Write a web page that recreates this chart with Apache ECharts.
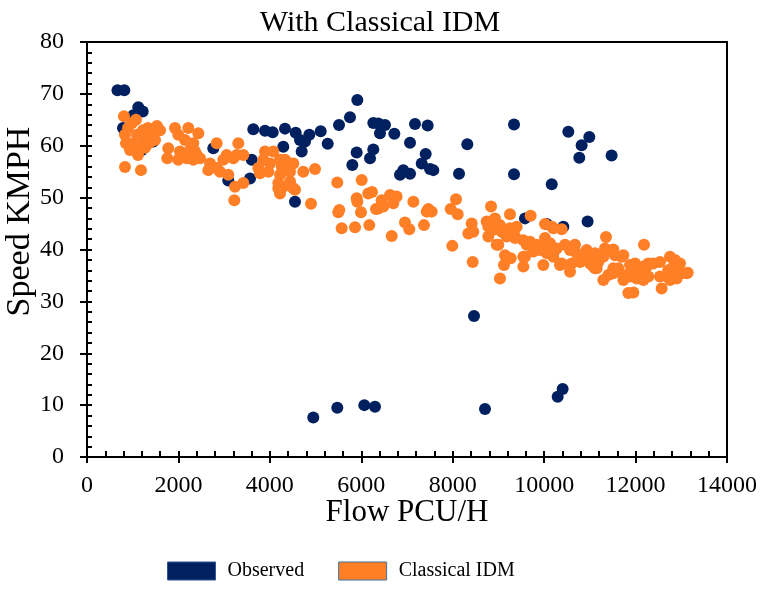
<!DOCTYPE html>
<html>
<head>
<meta charset="utf-8">
<script src="https://cdn.jsdelivr.net/npm/echarts@6/dist/echarts.min.js"></script>
<style>html,body{margin:0;padding:0;background:#fff}#c{width:760px;height:590px}</style>
</head>
<body>
<div id="c"></div>
<script>
var chartTitle = 'With Classical IDM';
var xName = 'Flow PCU/H';
var yName = 'Speed KMPH';
var seriesNames = ['Observed', 'Classical IDM'];
var xTicks = [0, 2000, 4000, 6000, 8000, 10000, 12000, 14000];
var yTicks = [0, 10, 20, 30, 40, 50, 60, 70, 80];

var observed = [
[667,70.7],[816,70.7],[1122,67.4],[1218,66.6],[1013,65.9],[788,63.4],[1450,60.8],[1197,59.2],[1291,61.7],
[2763,59.5],[3091,53.3],[3566,53.7],[3603,57.3],[3638,63.2],
[3894,62.9],[4062,62.6],[4331,63.3],[4565,62.5],[4863,62.1],[5112,62.8],[4659,61.1],[4769,60.8],[4696,58.9],[4294,59.8],[5265,60.4],[5513,64.0],[5753,65.5],[5913,68.8],[6263,64.4],[6373,64.3],[6519,64.0],[6409,62.4],[6723,62.3],[7175,64.2],[7452,63.9],[7066,60.6],[5899,58.7],[6263,59.3],[6191,57.6],[5804,56.3],[6919,55.3],[6847,54.4],[7066,54.6],[7409,58.4],[7322,56.6],[7503,55.5],[7575,55.3],[4331,55.6],[4550,49.2],
[8319,60.3],[8138,54.6],[9341,64.1],[10529,62.7],[10988,61.7],[10820,60.1],[10769,57.7],[11476,58.1],[9341,54.5],[10166,52.6],
[9581,46.0],[10056,44.9],[10420,44.4],[10951,45.4],
[4950,7.6],[5475,9.5],[6066,10.0],[6300,9.7],[8706,9.25],[10296,11.6],[10405,13.1],[8466,27.2]
];

var classicalIDM = [
[809,65.7],[984,64.4],[1072,65.0],[831,62.1],[853,60.5],[1094,62.1],[1225,63.0],[1334,63.4],[1531,63.8],[1422,62.4],
[1313,61.1],[1006,60.5],[1159,60.1],[1269,59.6],[1356,60.5],[831,55.9],[1181,55.3],[941,59.2],[1488,61.1],[1116,58.2],[1597,63.0],[897,63.4],
[1925,63.4],[1997,62.1],[2216,63.4],[2435,62.4],[2144,61.1],[2325,60.5],[1778,59.5],[1756,57.6],[2034,58.9],[2253,59.2],
[2400,58.2],[2181,57.6],[1997,57.3],[2472,57.6],[2325,57.3],[2363,58.9],[2837,60.5],[3310,60.5],[2691,56.6],[2837,55.7],
[2654,55.3],[2982,57.3],[3056,58.2],[3200,57.6],[3419,58.2],[3275,58.2],[2909,55.0],[3091,54.4],[3238,52.1],[3419,52.8],[3222,49.5],
[3894,58.9],[4076,58.9],[3857,57.3],[4003,56.6],[4222,57.3],[4294,55.7],[4441,56.6],[3784,54.7],[4185,51.8],[4222,50.8],
[4441,55.0],[4513,51.8],[3748,55.7],[3966,55.0],[4331,57.3],[4513,56.6],[4259,56.0],[4369,55.3],[4222,54.4],[4185,52.8],
[4550,51.5],[4731,55.0],[4988,55.5],[4900,48.8],[4441,53.1],[4294,52.1],
[5475,52.9],[6009,53.4],[6153,50.8],[6234,51.1],[5900,49.9],[5913,49.2],[5519,47.6],[5497,47.2],[5571,44.1],[5863,44.3],
[5994,47.2],[6175,44.7],[6322,47.8],[6482,48.3],[6446,49.5],[6373,47.9],[6628,50.5],[6773,50.2],[6700,48.9],[6665,42.6],
[6956,45.2],[7050,43.9],[7372,44.7],[7139,49.2],[7431,47.3],[7540,47.3],[7466,47.8],[7956,47.8],[8109,46.8],[8072,49.7],
[7991,40.7],[8437,37.6],[8415,45.0],[8451,43.4],[8342,43.1],[8743,45.4],[8816,44.7],[8779,42.5],[8925,46.0],[8962,40.9],
[8838,48.3],[9034,34.4],[8889,43.8],[9034,44.7],[9071,43.4],[8779,44.4],[9253,46.8],[9399,44.4],[9363,42.5],[8998,40.9],
[9705,46.5],[10019,44.9],[10201,44.1],[10384,43.9],[9144,38.9],[9268,38.3],[9122,37.0],[9545,41.8],[9691,41.5],[9618,40.9],
[9837,40.9],[9764,39.6],[9582,38.6],[9545,36.7],[10019,42.2],[10128,41.2],[9909,39.9],[10056,39.3],[10238,39.9],[10201,38.6],
[9982,37.0],[10347,37.0],[10566,35.7],[10602,37.3],[10456,40.9],[10675,40.9],[10566,39.9],[10712,39.3],[10931,39.9],[10894,38.6],
[11003,37.3],[11076,36.7],[11149,36.4],[11295,38.6],[11368,39.9],[11514,40.0],[11696,38.6],[11353,42.4],[12184,40.9],[11295,34.1],
[11514,35.4],[11733,34.1],[11878,34.8],[11842,31.6],[11952,31.7],[11878,37.0],[12097,36.0],[12243,36.7],[12279,37.3],[12170,34.1],
[12279,34.8],[12534,37.6],[12753,38.6],[12862,38.0],[12972,37.3],[13118,35.4],[12716,36.0],[12825,36.7],[12571,32.5],[12534,34.8],
[12753,34.1],[12899,34.4],[13009,35.4],[13140,35.5],
[9144,43.1],[9253,44.1],[9180,42.5],[9363,42.2],[10172,44.4],[9545,38.6],[9982,40.2],[10092,39.6],[10275,40.2],[10384,37.3],
[10784,37.6],[10967,38.3],[11113,39.3],[11185,37.6],[11113,36.4],[11331,40.2],[11550,38.9],[11733,38.9],[11404,35.1],[11514,36.4],
[11622,36.4],[11733,35.1],[11915,36.0],[12025,34.4],[11988,37.3],[12170,36.7],[12388,37.3],[12789,35.7],[12680,34.8]
];

var FONT = '"Liberation Serif","Times New Roman",serif';
var NAVY = '#002060';
var ORANGE = '#FF7F27';
var black = '#000';

var chart = echarts.init(document.getElementById('c'), null, {renderer: 'canvas'});

function baseX(extra) {
  return Object.assign({
    type: 'value', min: xTicks[0], max: xTicks[xTicks.length - 1], interval: xTicks[1] - xTicks[0],
    splitLine: {show: false}, axisLabel: {show: false}, axisTick: {show: false}, axisLine: {show: false}
  }, extra);
}
function baseY(extra) {
  return Object.assign({
    type: 'value', min: yTicks[0], max: yTicks[yTicks.length - 1], interval: yTicks[1] - yTicks[0],
    splitLine: {show: false}, axisLabel: {show: false}, axisTick: {show: false}, axisLine: {show: false}
  }, extra);
}

chart.setOption({
  backgroundColor: '#fff',
  animation: false,
  title: {
    text: chartTitle, left: 'center', top: 3,
    textStyle: {fontFamily: FONT, fontSize: 30, fontWeight: 'normal', color: black}
  },
  legend: {
    data: [
      {name: seriesNames[0], itemStyle: {borderColor: '#2F5597', borderWidth: 1}},
      {name: seriesNames[1], itemStyle: {borderColor: '#41719C', borderWidth: 1}}
    ],
    left: 162, top: 556, itemWidth: 48, itemHeight: 18, itemGap: 34, icon: 'rect',
    textStyle: {fontFamily: FONT, fontSize: 20, color: black, padding: [0, 0, 0, 7]}
  },
  grid: {left: 87, right: 33, top: 42, bottom: 133, outerBoundsMode: 'none', containLabel: false},
  xAxis: [
    baseX({
      position: 'bottom', name: xName, nameLocation: 'middle', nameGap: 40, nameMoveOverlap: false,
      nameTextStyle: {fontFamily: FONT, fontSize: 31, color: black},
      axisLine: {show: true, onZero: false, lineStyle: {color: black, width: 2}},
      axisTick: {show: true, inside: false, length: 6, lineStyle: {color: black, width: 2}},
      axisLabel: {show: true, margin: 17, fontFamily: FONT, fontSize: 24, color: black,
        formatter: function (v) { return String(v); }}
    }),
    baseX({
      position: 'bottom',
      axisTick: {show: true, inside: true, length: 6, lineStyle: {color: black, width: 2}},
      minorTick: {show: true, splitNumber: 5, length: 6, lineStyle: {color: black, width: 2}}
    }),
    baseX({
      position: 'top',
      axisLine: {show: true, onZero: false, lineStyle: {color: black, width: 2}}
    })
  ],
  yAxis: [
    baseY({
      position: 'left', name: yName, nameLocation: 'middle', nameGap: 50, nameRotate: 90, nameMoveOverlap: false,
      nameTextStyle: {fontFamily: FONT, fontSize: 34, color: black, padding: [0, 0, 0, 56]},
      axisLine: {show: true, onZero: false, lineStyle: {color: black, width: 2}},
      axisTick: {show: true, inside: false, length: 7, lineStyle: {color: black, width: 2}},
      axisLabel: {show: true, margin: 23, fontFamily: FONT, fontSize: 24, color: black,
        formatter: function (v) { return String(v); }}
    }),
    baseY({
      position: 'left',
      axisTick: {show: true, inside: true, length: 5, lineStyle: {color: black, width: 2}},
      minorTick: {show: true, splitNumber: 5, length: 5, lineStyle: {color: black, width: 2}}
    }),
    baseY({
      position: 'right',
      axisLine: {show: true, onZero: false, lineStyle: {color: black, width: 2}}
    })
  ],
  series: [
    {
      name: seriesNames[0], type: 'scatter', data: observed, symbolSize: 12,
      itemStyle: {color: NAVY, opacity: 1},
      xAxisIndex: 0, yAxisIndex: 0
    },
    {
      name: seriesNames[1], type: 'scatter', data: classicalIDM, symbolSize: 12,
      itemStyle: {color: ORANGE, opacity: 1},
      xAxisIndex: 0, yAxisIndex: 0
    }
  ]
});
</script>
</body>
</html>
